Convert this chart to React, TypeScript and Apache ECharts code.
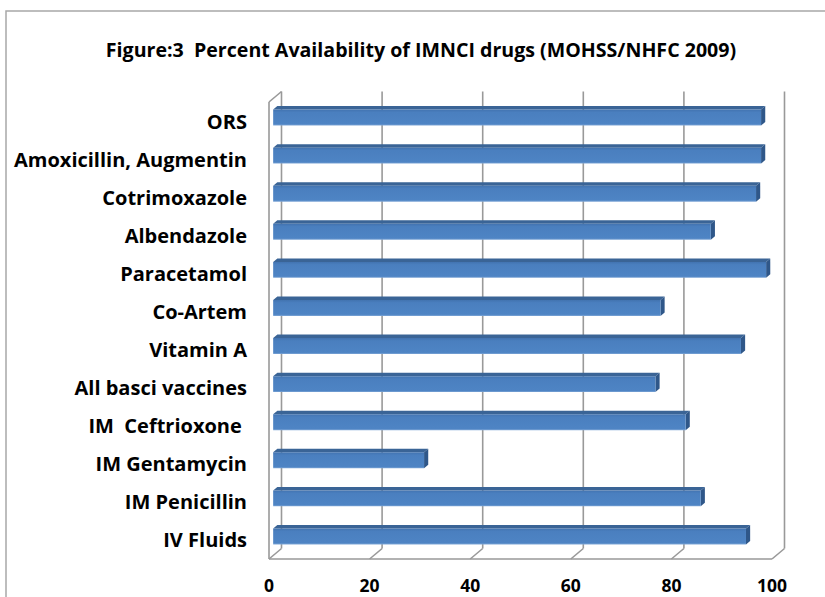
import React, { useEffect, useRef } from "react";
import * as echarts from "echarts";

const TITLE = "Figure:3  Percent Availability of IMNCI drugs (MOHSS/NHFC 2009)";
const categories = [
  "ORS",
  "Amoxicillin, Augmentin",
  "Cotrimoxazole",
  "Albendazole",
  "Paracetamol",
  "Co-Artem",
  "Vitamin A",
  "All basci vaccines",
  "IM  Ceftrioxone ",
  "IM Gentamycin",
  "IM Penicillin",
  "IV Fluids",
];
const values = [97, 97, 96, 87, 98, 77, 93, 76, 82, 30, 85, 94];
const ticks = [0, 20, 40, 60, 80, 100];

const FONT = "'Open Sans', Lato, sans-serif";
const DX = 12.5;
const DY = -10.5;
const LINE = "#999999";

export default function App() {
  const ref = useRef<HTMLDivElement>(null);
  useEffect(() => {
    document.body.style.margin = "0";
    const chart = echarts.init(ref.current!, null, { renderer: "svg" });
    const frontGrad = new echarts.graphic.LinearGradient(0, 0, 0, 1, [
      { offset: 0, color: "#4273b0" },
      { offset: 0.18, color: "#4a7fbf" },
      { offset: 0.9, color: "#4e84c4" },
      { offset: 1, color: "#7ea6d6" },
    ]);
    chart.setOption({
      animation: false,
      title: {
        text: TITLE,
        left: 416,
        top: 34,
        textAlign: "center",
        textStyle: { fontFamily: FONT, fontSize: 19.6, fontWeight: "bold", color: "#000" },
      },
      graphic: [
        {
          type: "rect",
          shape: { x: 6, y: 11, width: 900, height: 700 },
          style: { fill: "none", stroke: "#a8a8a8", lineWidth: 1.5 },
          silent: true,
        },
      ],
      grid: { left: 269, top: 102, width: 503, height: 457 },
      xAxis: {
        type: "value",
        min: 0,
        max: 100,
        interval: 20,
        axisLine: { show: false },
        axisTick: { show: false },
        splitLine: { show: false },
        axisLabel: {
          margin: 17,
          fontFamily: FONT,
          fontSize: 17.5,
          fontWeight: "bold",
          color: "#000",
        },
      },
      yAxis: {
        type: "category",
        data: categories,
        inverse: true,
        axisLine: { show: false },
        axisTick: { show: false },
        splitLine: { show: false },
        axisLabel: {
          margin: 22,
          fontFamily: FONT,
          fontSize: 20,
          fontWeight: "bold",
          color: "#000",
        },
      },
      series: [
        {
          type: "custom",
          z: 1,
          clip: false,
          silent: true,
          encode: { x: 0, y: 1 },
          data: ticks.map((t) => [t, 0]),
          renderItem: (params: any, api: any) => {
            const cs = params.coordSys;
            const top = cs.y;
            const bottom = cs.y + cs.height;
            const t = api.value(0);
            const x = api.coord([t, 0])[0];
            const st = { stroke: LINE, lineWidth: 1.6, fill: "none" };
            const children: any[] = [
              { type: "line", shape: { x1: x + DX, y1: top + DY, x2: x + DX, y2: bottom + DY }, style: st },
              { type: "line", shape: { x1: x, y1: bottom, x2: x + DX, y2: bottom + DY }, style: st },
            ];
            if (t === ticks[0]) {
              const xEnd = api.coord([ticks[ticks.length - 1], 0])[0];
              children.push(
                { type: "line", shape: { x1: x, y1: top, x2: x, y2: bottom }, style: st },
                { type: "line", shape: { x1: x, y1: top, x2: x + DX, y2: top + DY }, style: st },
                { type: "line", shape: { x1: x, y1: bottom, x2: xEnd, y2: bottom }, style: st }
              );
            }
            return { type: "group", children };
          },
        },
        {
          type: "custom",
          z: 2,
          clip: false,
          encode: { x: 0, y: 1 },
          data: values.map((v, i) => [v, i]),
          renderItem: (params: any, api: any) => {
            const v = api.value(0);
            const c = api.value(1);
            const p0 = api.coord([0, c]);
            const p1 = api.coord([v, c]);
            const bh = api.size([0, 1])[1] * 0.42;
            const ox = DX / 3;
            const oy = DY / 3;
            const bx = DX / 3;
            const by = DY / 3;
            const x0 = p0[0] + ox;
            const x1 = p1[0] + ox;
            const yc = p0[1] + oy;
            const yt = yc - bh / 2;
            const yb = yc + bh / 2;
            return {
              type: "group",
              children: [
                {
                  type: "polygon",
                  shape: { points: [[x0, yt], [x1, yt], [x1 + bx, yt + by], [x0 + bx, yt + by]] },
                  style: { fill: "#3a6496" },
                },
                {
                  type: "polygon",
                  shape: { points: [[x1, yt], [x1 + bx, yt + by], [x1 + bx, yb + by], [x1, yb]] },
                  style: { fill: "#2f5789" },
                },
                {
                  type: "rect",
                  shape: { x: x0, y: yt, width: x1 - x0, height: bh },
                  style: { fill: frontGrad },
                },
              ],
            };
          },
        },
      ],
    });
    return () => chart.dispose();
  }, []);
  return <div ref={ref} style={{ width: 825, height: 597 }} />;
}
